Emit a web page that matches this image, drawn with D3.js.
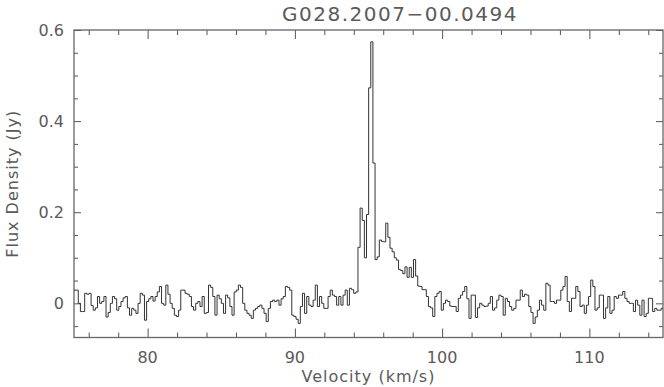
<!DOCTYPE html>
<html>
<head>
<meta charset="utf-8">
<script src="https://cdn.jsdelivr.net/npm/d3@7"></script>
<style>
body { margin: 0; background: #fff; }
text { font-family: "DejaVu Sans", sans-serif; fill: #5a5a5a; }
</style>
</head>
<body>
<div id="chart"></div>
<script>
// spectrum title and channel grid
var sourceName = "G028.2007\u221200.0494";
var velStart = 75.0;     // left edge of first channel (km/s)
var chanWidth = 0.145;   // km/s per channel

// flux density per channel (Jy)
var flux = [
  0.029, 0.029, 0.0, -0.018, -0.018, 0.022, 0.02, 0.022, -0.005, -0.015,
  -0.01, 0.015, 0.0, 0.004, 0.015, -0.03, -0.02, 0.0, 0.015, 0.01,
  -0.015, -0.007, 0.004, 0.012, 0.015, -0.01, -0.026, -0.011, -0.015, -0.022,
  0.0, 0.022, 0.018, -0.037, 0.004, 0.01, 0.015, 0.005, 0.015, 0.025,
  0.037, 0.0, -0.004, 0.04, 0.02, 0.0, -0.011, -0.026, -0.029, -0.015,
  0.029, 0.029, 0.022, 0.02, 0.015, -0.007, -0.015, 0.0, 0.004, -0.007,
  0.015, -0.022, -0.02, 0.04, 0.035, 0.015, -0.026, 0.018, 0.01, 0.0,
  -0.022, 0.018, 0.012, -0.007, -0.026, 0.025, 0.029, 0.04, 0.035, 0.0,
  -0.015, -0.022, -0.026, -0.033, -0.015, -0.011, -0.007, -0.004, -0.011, -0.022,
  -0.04, -0.011, 0.004, 0.007, 0.004, 0.007, -0.004, 0.01, 0.015, 0.037,
  0.035, 0.029, -0.026, -0.029, -0.035, -0.044, -0.007, 0.022, -0.022, 0.015,
  -0.004, -0.007, 0.007, 0.04, -0.007, 0.015, 0.0, -0.011, -0.011, 0.015,
  0.029, 0.018, 0.015, -0.004, 0.015, -0.004, 0.018, 0.029, -0.004, 0.033,
  0.03, 0.022, 0.025,
  // maser feature
  0.123, 0.209, 0.182, 0.10, 0.195, 0.473, 0.574, 0.308, 0.096, 0.102,
  0.139, 0.136, 0.135, 0.176, 0.145, 0.121, 0.113, 0.10, 0.095, 0.074,
  0.072, 0.065, 0.08, 0.057, 0.079, 0.057, 0.096, 0.06,
  // red side baseline
  0.038, 0.037, 0.03, 0.03, 0.015, -0.007, -0.01, -0.029, 0.015, 0.022,
  0.026, -0.015, 0.0, 0.007, 0.004, -0.006, -0.007, -0.007, -0.018, 0.011,
  0.018, 0.026, 0.037, 0.01, -0.033, 0.018, 0.018, -0.031, -0.01, 0.0,
  -0.004, -0.007, -0.006, 0.0, 0.015, -0.015, -0.01, 0.007, 0.018, 0.015,
  -0.026, 0.011, 0.004, -0.007, -0.015, -0.011, 0.007, 0.007, 0.029, 0.015,
  0.02, 0.018, -0.007, -0.02, -0.044, -0.03, -0.015, 0.007, -0.004, -0.015,
  0.044, 0.04, 0.004, 0.004, 0.0, 0.007, 0.007, 0.029, 0.037, 0.059,
  0.004, -0.018, 0.011, 0.011, 0.037, 0.026, -0.007, -0.004, -0.022, -0.004,
  0.015, 0.051, 0.037, -0.015, -0.01, 0.018, 0.018, -0.033, -0.01, 0.015,
  -0.022, -0.015, 0.015, 0.011, 0.018, 0.018, 0.026, 0.011, 0.004, 0.0,
  0.0, -0.018, 0.007, -0.004, -0.026, 0.007, -0.029, -0.022, 0.011, 0.011,
  -0.018, -0.011, -0.015, -0.015, -0.011
];

// axis ticks
var xMajorTicks = [80, 90, 100, 110];
var xMinorTicks = [76, 78, 82, 84, 86, 88, 92, 94, 96, 98, 102, 104, 106, 108, 112, 114];
var yMajorTicks = [0, 0.2, 0.4, 0.6];
var yMinorTicks = [-0.05, 0.05, 0.1, 0.15, 0.25, 0.3, 0.35, 0.45, 0.5, 0.55];

var svgWidth = 664;
var svgHeight = 387;
var margin = { top: 30, right: 1, bottom: 49.5, left: 74 };
var width = svgWidth - margin.left - margin.right;
var height = svgHeight - margin.top - margin.bottom;

var svg = d3.select("#chart").append("svg")
  .attr("width", svgWidth)
  .attr("height", svgHeight);

var g = svg.append("g")
  .attr("transform", `translate(${margin.left}, ${margin.top})`);

var x = d3.scaleLinear().domain([75, 115]).range([0, width]);
var y = d3.scaleLinear().domain([-0.075, 0.6]).range([height, 0]);

// ticks pointing inward on all four sides
var axes = [
  { make: () => d3.axisBottom(x), t: `translate(0,${height})`, major: xMajorTicks, minor: xMinorTicks, big: 9, small: 5 },
  { make: () => d3.axisTop(x), t: "translate(0,0)", major: xMajorTicks, minor: xMinorTicks, big: 9, small: 5 },
  { make: () => d3.axisLeft(y), t: "translate(0,0)", major: yMajorTicks, minor: yMinorTicks, big: 7, small: 4 },
  { make: () => d3.axisRight(y), t: `translate(${width},0)`, major: yMajorTicks, minor: yMinorTicks, big: 7, small: 4 }
];

axes.forEach(function(a) {
  [[a.major, a.big], [a.minor, a.small]].forEach(function(set) {
    var ax = a.make().tickValues(set[0]).tickSize(-set[1]).tickFormat("");
    var s = g.append("g").attr("transform", a.t).call(ax);
    s.select(".domain").remove();
    s.selectAll("line").attr("stroke", "#555").attr("stroke-width", 1);
  });
});

// frame
g.append("rect")
  .attr("x", 0).attr("y", 0)
  .attr("width", width).attr("height", height)
  .attr("fill", "none")
  .attr("stroke", "#666")
  .attr("stroke-width", 1.3);

// tick labels
g.selectAll(".xlab").data(xMajorTicks).enter().append("text")
  .attr("x", d => x(d))
  .attr("y", height + 25)
  .attr("text-anchor", "middle")
  .attr("font-size", "16px")
  .text(d => d);

g.selectAll(".ylab").data(yMajorTicks).enter().append("text")
  .attr("x", -10)
  .attr("y", d => y(d) + 6)
  .attr("text-anchor", "end")
  .attr("font-size", "16px")
  .text(d => d === 0 ? "0" : d.toFixed(1));

// histogram of channels
var pts = flux.map((f, i) => [velStart + i * chanWidth, f]);
pts.push([velStart + flux.length * chanWidth, flux[flux.length - 1]]);

g.append("clipPath").attr("id", "clip")
  .append("rect").attr("width", width).attr("height", height);

var line = d3.line()
  .x(d => x(d[0]))
  .y(d => y(d[1]))
  .curve(d3.curveStepAfter);

g.append("path")
  .datum(pts)
  .attr("clip-path", "url(#clip)")
  .attr("fill", "none")
  .attr("stroke", "#333")
  .attr("stroke-width", 1)
  .attr("d", line);

// titles
svg.append("text")
  .attr("x", 400)
  .attr("y", 21)
  .attr("text-anchor", "middle")
  .attr("font-size", "20px")
  .attr("letter-spacing", "1.5px")
  .text(sourceName);

svg.append("text")
  .attr("x", margin.left + width / 2)
  .attr("y", 382)
  .attr("text-anchor", "middle")
  .attr("font-size", "16px")
  .attr("letter-spacing", "1px")
  .text("Velocity (km/s)");

svg.append("text")
  .attr("transform", `translate(18, ${margin.top + height / 2}) rotate(-90)`)
  .attr("text-anchor", "middle")
  .attr("font-size", "16px")
  .attr("letter-spacing", "1px")
  .text("Flux Density (Jy)");
</script>
</body>
</html>
